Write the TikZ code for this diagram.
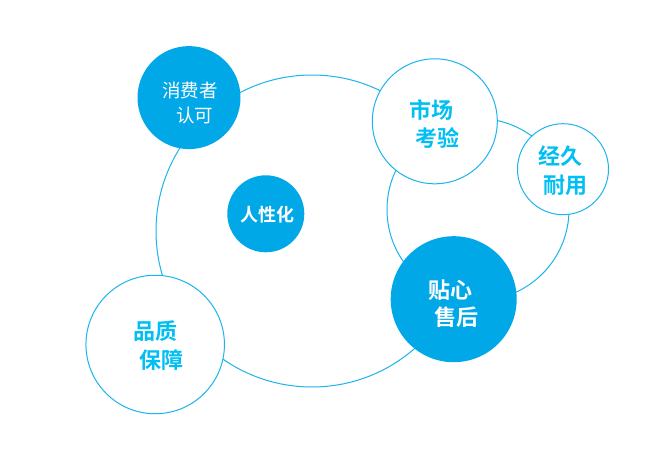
\documentclass[tikz,border=0pt]{standalone}
\usepackage{fontspec}
\setmainfont{Noto Sans CJK SC}
\newfontfamily\cjk{Noto Sans CJK SC}
\newfontfamily\cjkb{Noto Sans CJK SC Bold}
\definecolor{fillblue}{HTML}{00A8E8}
\definecolor{lineblue}{HTML}{1CB4EC}
\definecolor{textcyan}{HTML}{00BFF3}
\tikzset{
  ring/.style={circle, draw=lineblue, line width=1pt, fill=white, inner sep=0pt},
  disc/.style={circle, fill=fillblue, draw=none, inner sep=0pt},
  wlbl/.style={text=white, inner sep=0pt, font=\cjkb\fontsize{22}{22}\selectfont},
  clbl/.style={text=textcyan, inner sep=0pt, font=\cjkb\fontsize{22}{22}\selectfont},
  thinlbl/.style={text=white, inner sep=0pt, font=\cjk\fontsize{18.5}{18.5}\selectfont},
}
\begin{document}
\begin{tikzpicture}[x=1pt,y=-1pt]
\useasboundingbox[fill=white] (0,0) rectangle (661,471);
% large background circles
\node[ring, minimum size=312pt] (big) at (312,231) {};
\node[ring, minimum size=182pt] (right) at (478,209.5) {};
% small circles
\node[disc, minimum size=103pt] (consumer) at (189,97.6) {};
\node[disc, minimum size=77pt] (human) at (265.8,213.8) {};
\node[ring, minimum size=125pt] (market) at (434.8,121.3) {};
\node[ring, minimum size=91pt] (durable) at (563,169.2) {};
\node[disc, minimum size=126pt] (service) at (453.7,299.2) {};
\node[ring, minimum size=138.5pt] (quality) at (155.2,344.5) {};
% labels
\node[thinlbl] (t1a) at (190,90) {消费者};
\node[thinlbl] (t1b) at (194.7,115) {认可};
\node[wlbl, font=\cjkb\fontsize{18}{18}\selectfont] (t2) at (267.5,214.5) {人性化};
\node[clbl] (t3a) at (431.3,110) {市场};
\node[clbl] (t3b) at (437.5,138) {考验};
\node[clbl] (t4a) at (560,156) {经久};
\node[clbl] (t4b) at (565.8,185) {耐用};
\node[wlbl] (t5a) at (450,290) {贴心};
\node[wlbl] (t5b) at (456.3,316.7) {售后};
\node[clbl] (t6a) at (155.8,331) {品质};
\node[clbl] (t6b) at (161.7,360) {保障};
\end{tikzpicture}
\end{document}
